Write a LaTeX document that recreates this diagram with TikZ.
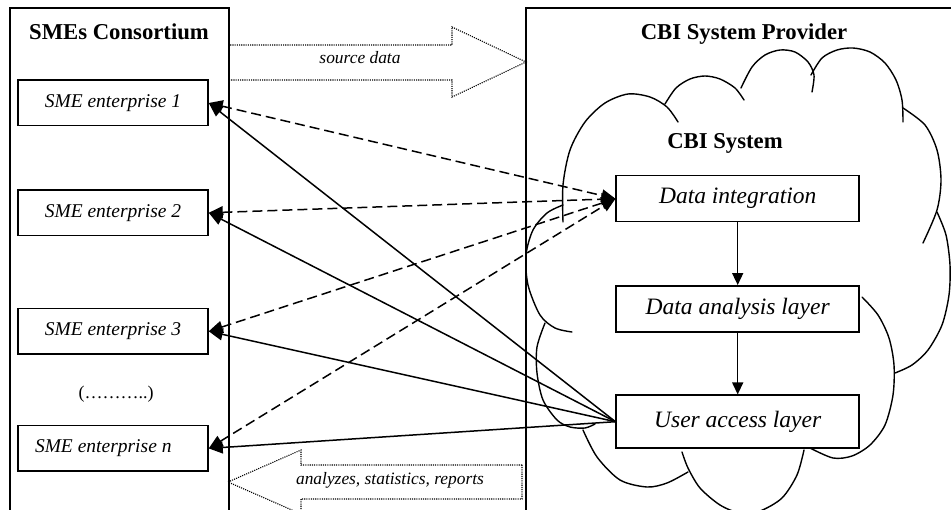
\documentclass[tikz,border=0pt]{standalone}
\usepackage{fontspec}
\setmainfont{Liberation Serif}
\usetikzlibrary{arrows.meta}

\tikzset{
  frame/.style={draw, line width=1.6pt},
  entbox/.style={draw, line width=1.5pt, fill=white, minimum width=190pt,
    minimum height=45.5pt, inner sep=0pt, font=\fontsize{19.5}{23}\selectfont\itshape},
  layerbox/.style={draw, line width=1.5pt, fill=white, minimum width=243pt,
    minimum height=46pt, inner sep=0pt, font=\fontsize{23.5}{28}\selectfont\itshape},
  heading/.style={font=\fontsize{22.7}{27}\selectfont\bfseries, anchor=base, inner sep=0pt},
  flowlabel/.style={font=\fontsize{17.4}{21}\selectfont\itshape, anchor=base, inner sep=0pt},
  head/.tip={Triangle[length=14pt,width=12pt]},
  exchange/.style={line width=1.5pt, dash pattern=on 10pt off 5pt, {head}-{head}},
  delivery/.style={line width=1.5pt, -{head}},
  layerflow/.style={line width=1.5pt, -{Triangle[length=12pt,width=11pt]}},
  cloudline/.style={line width=1.4pt, line join=round, line cap=round},
  bigarrow/.style={line width=1.1pt, dash pattern=on 1.1pt off 1.1pt},
}

\begin{document}
\begin{tikzpicture}[x=1pt, y=-1pt]
  \useasboundingbox (0,0) rectangle (951,510);
  \fill[white] (0,0) rectangle (951,510);
  \clip (0,0) rectangle (951,510);

  % two parties
  \path[frame] (10,8) rectangle (229,525);
  \path[frame] (526,8) rectangle (965,525);
  \node[heading] (smes) at (119,39.5) {SMEs Consortium};
  \node[heading] (provider) at (744,39.5) {CBI System Provider};

  % cloud outline, bump by bump
  \begin{scope}[cloudline]
    \draw plot[smooth] coordinates {(563,222) (563,185) (570,150) (585,122) (605,103) (628,94) (650,97) (667,107) (678,122)};
    \draw plot[smooth] coordinates {(665,104) (676,88) (690,79) (705,76) (720,79) (735,88) (744,100)};
    \draw plot[smooth] coordinates {(741,88) (752,67) (765,55) (780,50) (795,52) (808,62) (814,75) (812,92)};
    \draw plot[smooth] coordinates {(811,75) (822,58) (837,50) (853,48) (870,52) (885,63) (896,80) (902,100) (903,122)};
    \draw plot[smooth] coordinates {(903,108) (925,125) (937,150) (941,180) (937,210) (923,243)};
    \draw plot[smooth] coordinates {(937,212) (946,235) (950,265) (949,295) (942,325) (928,350) (912,365) (895,373)};
    \draw plot[smooth] coordinates {(862,297) (878,315) (889,338) (894,365) (893,395) (885,425) (870,445) (852,456) (833,458) (810,448)};
    \draw plot[smooth] coordinates {(804,450) (797,475) (782,498) (760,511) (740,513) (720,505) (700,488) (688,468) (682,452)};
    \draw plot[smooth] coordinates {(688,472) (667,483) (647,487) (620,480) (597,457) (583,430)};
    \draw plot[smooth] coordinates {(545,323) (537,347) (537,373) (543,400) (557,420) (570,427) (585,428) (595,424)};
    \draw plot[smooth] coordinates {(563,205) (547,213) (533,230) (526,255) (528,285) (540,315) (555,328) (572,332)};
  \end{scope}
  \node[heading] (cbi) at (725,148.5) {CBI System};

  % layers of the CBI system
  \node[layerbox] (integ) at (737.7,198.7) {Data integration};
  \node[layerbox] (analysis) at (737.7,308.8) {Data analysis layer};
  \node[layerbox, minimum height=53pt] (access) at (737.7,421.7) {User access layer};
  \draw[layerflow] (integ) -- (analysis);
  \draw[layerflow] (analysis) -- (access);

  % enterprises of the consortium
  \node[entbox] (e1) at (113,103) {SME enterprise 1};
  \node[entbox] (e2) at (113,212.8) {SME enterprise 2};
  \node[entbox] (e3) at (113,331.3) {SME enterprise 3};
  \node[entbox, text width=156pt, inner xsep=17pt, align=left] (en) at (113,448.4)
    {SME\hspace{-0.08em} enterprise\hspace{-0.08em} n};
  \node[font=\fontsize{18}{22}\selectfont, anchor=base, inner sep=0pt] (more) at (116,398.5) {(………..)};

  % large flows between the parties
  \draw[bigarrow] (228,45) -- (452,45) -- (452,27) -- (526,62) -- (452,97) -- (452,80) -- (228,80);
  \node[flowlabel] (src) at (360,64) {source data};
  \draw[bigarrow] (522,465) -- (301,465) -- (301,450) -- (228,482) -- (301,514) -- (301,499) -- (522,499) -- cycle;
  \node[flowlabel] (rep) at (390,485) {analyzes, statistics, reports};

  % data exchange and result delivery
  \foreach \e in {e1,e2,e3,en} {
    \draw[exchange] (\e.east) -- (integ.west);
    \draw[delivery] (access.west) -- (\e.east);
  }
\end{tikzpicture}
\end{document}
